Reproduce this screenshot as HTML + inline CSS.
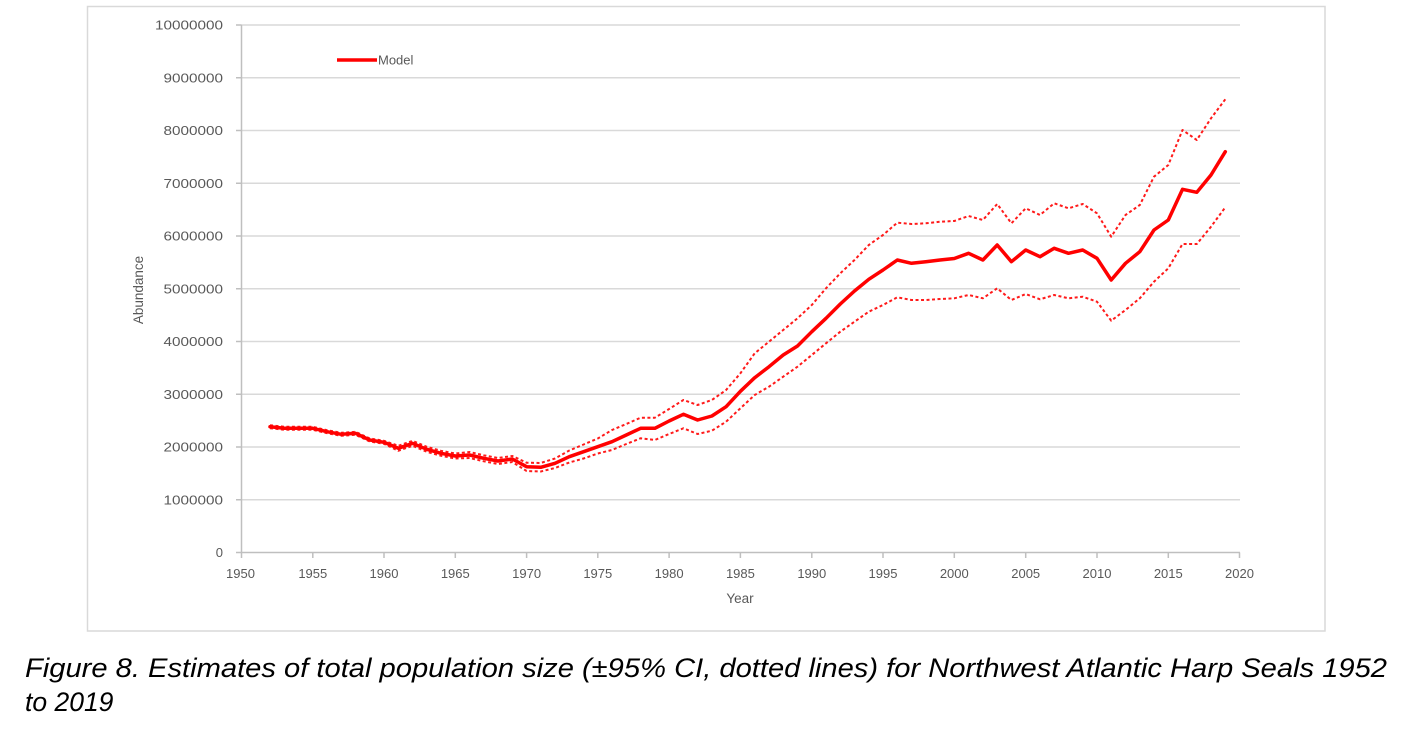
<!DOCTYPE html>
<html>
<head>
<meta charset="utf-8">
<style>
html,body{margin:0;padding:0;background:#fff;}
svg{display:block;}
</style>
</head>
<body>
<svg width="1415" height="738" viewBox="0 0 1415 738" xmlns="http://www.w3.org/2000/svg">
<rect x="0" y="0" width="1415" height="738" fill="#fff"/>
<!-- chart border -->
<rect x="87.5" y="6.5" width="1237.5" height="624.5" fill="#fff" stroke="#d9d9d9" stroke-width="1.5"/>
<!-- gridlines -->
<g stroke="#d9d9d9" stroke-width="1.5">
<line x1="241.5" y1="25" x2="1240" y2="25"/>
<line x1="241.5" y1="77.75" x2="1240" y2="77.75"/>
<line x1="241.5" y1="130.5" x2="1240" y2="130.5"/>
<line x1="241.5" y1="183.25" x2="1240" y2="183.25"/>
<line x1="241.5" y1="236" x2="1240" y2="236"/>
<line x1="241.5" y1="288.75" x2="1240" y2="288.75"/>
<line x1="241.5" y1="341.5" x2="1240" y2="341.5"/>
<line x1="241.5" y1="394.25" x2="1240" y2="394.25"/>
<line x1="241.5" y1="447" x2="1240" y2="447"/>
<line x1="241.5" y1="499.75" x2="1240" y2="499.75"/>
</g>
<!-- axes -->
<g stroke="#bfbfbf" stroke-width="1.5">
<line x1="241.5" y1="25" x2="241.5" y2="552.5"/>
<line x1="241.5" y1="552.5" x2="1240" y2="552.5"/>
<!-- y ticks -->
<line x1="236" y1="25" x2="241.5" y2="25"/>
<line x1="236" y1="77.75" x2="241.5" y2="77.75"/>
<line x1="236" y1="130.5" x2="241.5" y2="130.5"/>
<line x1="236" y1="183.25" x2="241.5" y2="183.25"/>
<line x1="236" y1="236" x2="241.5" y2="236"/>
<line x1="236" y1="288.75" x2="241.5" y2="288.75"/>
<line x1="236" y1="341.5" x2="241.5" y2="341.5"/>
<line x1="236" y1="394.25" x2="241.5" y2="394.25"/>
<line x1="236" y1="447" x2="241.5" y2="447"/>
<line x1="236" y1="499.75" x2="241.5" y2="499.75"/>
<line x1="236" y1="552.5" x2="241.5" y2="552.5"/>
<!-- x ticks -->
<line x1="241.5" y1="552.5" x2="241.5" y2="558"/>
<line x1="384" y1="552.5" x2="384" y2="558"/>
<line x1="312.8" y1="552.5" x2="312.8" y2="558"/>
<line x1="455.3" y1="552.5" x2="455.3" y2="558"/>
<line x1="526.6" y1="552.5" x2="526.6" y2="558"/>
<line x1="597.8" y1="552.5" x2="597.8" y2="558"/>
<line x1="669.1" y1="552.5" x2="669.1" y2="558"/>
<line x1="740.4" y1="552.5" x2="740.4" y2="558"/>
<line x1="811.8" y1="552.5" x2="811.8" y2="558"/>
<line x1="883" y1="552.5" x2="883" y2="558"/>
<line x1="954.3" y1="552.5" x2="954.3" y2="558"/>
<line x1="1025.7" y1="552.5" x2="1025.7" y2="558"/>
<line x1="1097" y1="552.5" x2="1097" y2="558"/>
<line x1="1168.3" y1="552.5" x2="1168.3" y2="558"/>
<line x1="1239.5" y1="552.5" x2="1239.5" y2="558"/>
</g>
<!-- y labels -->
<g font-family="Liberation Sans, sans-serif" font-size="13" fill="#595959" text-anchor="end">
<text x="223" y="29.5" textLength="68" lengthAdjust="spacingAndGlyphs">10000000</text>
<text x="223" y="82.25" textLength="59.5" lengthAdjust="spacingAndGlyphs">9000000</text>
<text x="223" y="135" textLength="59.5" lengthAdjust="spacingAndGlyphs">8000000</text>
<text x="223" y="187.75" textLength="59.5" lengthAdjust="spacingAndGlyphs">7000000</text>
<text x="223" y="240.5" textLength="59.5" lengthAdjust="spacingAndGlyphs">6000000</text>
<text x="223" y="293.25" textLength="59.5" lengthAdjust="spacingAndGlyphs">5000000</text>
<text x="223" y="346" textLength="59.5" lengthAdjust="spacingAndGlyphs">4000000</text>
<text x="223" y="398.75" textLength="59.5" lengthAdjust="spacingAndGlyphs">3000000</text>
<text x="223" y="451.5" textLength="59.5" lengthAdjust="spacingAndGlyphs">2000000</text>
<text x="223" y="504.25" textLength="59.5" lengthAdjust="spacingAndGlyphs">1000000</text>
<text x="223" y="557">0</text>
</g>
<!-- x labels -->
<g font-family="Liberation Sans, sans-serif" font-size="13" fill="#595959" text-anchor="middle">
<text x="240.5" y="578">1950</text>
<text x="312.8" y="578">1955</text>
<text x="384" y="578">1960</text>
<text x="455.3" y="578">1965</text>
<text x="526.6" y="578">1970</text>
<text x="597.8" y="578">1975</text>
<text x="669.1" y="578">1980</text>
<text x="740.4" y="578">1985</text>
<text x="811.8" y="578">1990</text>
<text x="883" y="578">1995</text>
<text x="954.3" y="578">2000</text>
<text x="1025.7" y="578">2005</text>
<text x="1097" y="578">2010</text>
<text x="1168.3" y="578">2015</text>
<text x="1239.5" y="578">2020</text>
</g>
<!-- axis titles -->
<text x="740" y="603" font-family="Liberation Sans, sans-serif" font-size="13.5" fill="#595959" text-anchor="middle">Year</text>
<text x="0" y="0" transform="translate(143,290) rotate(-90)" font-family="Liberation Sans, sans-serif" font-size="13.5" fill="#595959" text-anchor="middle">Abundance</text>
<!-- legend -->
<line x1="337" y1="60" x2="377" y2="60" stroke="#ff0000" stroke-width="3.5"/>
<text x="378" y="64.5" font-family="Liberation Sans, sans-serif" font-size="13" fill="#595959">Model</text>

<!-- upper CI -->
<polyline fill="none" stroke="#ff1a1a" stroke-width="2" stroke-dasharray="3 2.5" stroke-linejoin="round"
points="270,425.2 284.3,426.8 298.5,426.8 312.8,426.8 327,430.2 341.3,432.8 355.5,431.8 369.8,438.5 384,440.8 398.3,445.8 412.6,440.8 426.8,446.8 441,450.8 455.3,453.5 469.6,452 483.8,455.3 498,458 512.3,456 526.6,462.7 540.8,463 555,458.5 569.3,450.5 583.6,444.5 597.8,438.5 612,430 626.3,424 640.6,417.7 654.9,417.7 669.1,409 683.4,400 697.6,405 711.9,400 726.1,390 740.4,373.3 754.7,353.3 769,341.7 783.2,330 797.5,318.3 811.8,305 826,288.3 840.3,273.3 854.5,260 868.8,245 883,235 897.3,222.7 911.5,224 925.8,223.3 940,221.7 954.3,221 968.6,216 982.9,220 997.2,204 1011.4,223.3 1025.7,208.3 1040,215 1054.2,203.3 1068.5,208.3 1082.7,204 1097,213.3 1111.2,236.7 1125.5,215 1139.8,205 1154,176.7 1168.3,165 1182.5,130 1196.8,140 1211,118.3 1225.3,99.3"/>
<!-- lower CI -->
<polyline fill="none" stroke="#ff1a1a" stroke-width="2" stroke-dasharray="3 2.5" stroke-linejoin="round"
points="270,428.2 284.3,429.8 298.5,429.8 312.8,429.8 327,433.2 341.3,435.8 355.5,434.8 369.8,441.5 384,443.8 398.3,450.8 412.6,445.8 426.8,451.8 441,455.8 455.3,458.5 469.6,458 483.8,461.3 498,464 512.3,462 526.6,471 540.8,471.5 555,468 569.3,462.5 583.6,458.5 597.8,453.5 612,450 626.3,444 640.6,438.3 654.9,440 669.1,434 683.4,428.3 697.6,434 711.9,430.7 726.1,421.7 740.4,408.3 754.7,395 769,386.7 783.2,376.7 797.5,366.7 811.8,355 826,343.3 840.3,331.7 854.5,321.7 868.8,311.7 883,305 897.3,297.3 911.5,300 925.8,300 940,299 954.3,298.3 968.6,295 982.9,298.3 997.2,288.3 1011.4,300 1025.7,294 1040,299.3 1054.2,295 1068.5,298.3 1082.7,296.7 1097,301.7 1111.2,320.7 1125.5,310 1139.8,298.3 1154,281.7 1168.3,268.3 1182.5,244 1196.8,244 1211,226.7 1225.3,207.3"/>
<!-- model -->
<polyline fill="none" stroke="#ff0000" stroke-width="3.5" stroke-linejoin="round" stroke-linecap="round"
points="270,426.7 284.3,428.3 298.5,428.3 312.8,428.3 327,431.7 341.3,434.3 355.5,433.3 369.8,440 384,442.3 398.3,448.3 412.6,443.3 426.8,449.3 441,453.3 455.3,456 469.6,455 483.8,458.3 498,461 512.3,459 526.6,466.7 540.8,467.3 555,463.3 569.3,456.7 583.6,451.7 597.8,446.7 612,441.7 626.3,435 640.6,428.3 654.9,428.3 669.1,421 683.4,414.3 697.6,420 711.9,416 726.1,406.7 740.4,391.3 754.7,377.7 769,366.7 783.2,355 797.5,346 811.8,331.7 826,318.3 840.3,304 854.5,291 868.8,279.3 883,270 897.3,260 911.5,263.3 925.8,261.7 940,260 954.3,258.5 968.6,253.3 982.9,260 997.2,245 1011.4,261.7 1025.7,250 1040,256.7 1054.2,248.3 1068.5,253.3 1082.7,250 1097,258.3 1111.2,280 1125.5,263.3 1139.8,251.7 1154,230 1168.3,220 1182.5,189.3 1196.8,192.3 1211,175 1225.3,151.7"/>

<!-- caption -->
<g font-family="Liberation Sans, Arial, sans-serif" font-size="26.5" font-style="italic" fill="#000">
<text x="25" y="677" textLength="1362" lengthAdjust="spacingAndGlyphs">Figure 8. Estimates of total population size (±95% CI, dotted lines) for Northwest Atlantic Harp Seals 1952</text>
<text x="25" y="711">to 2019</text>
</g>
</svg>
</body>
</html>
